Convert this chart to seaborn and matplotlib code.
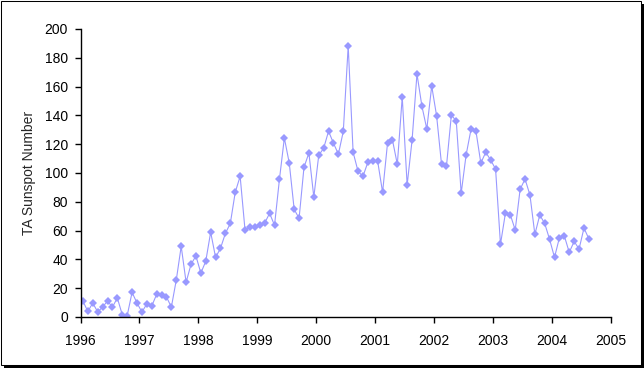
import numpy as np
import pandas as pd
import matplotlib
matplotlib.use('Agg')
import matplotlib.pyplot as plt
import seaborn as sns
from matplotlib.patches import Rectangle

# monthly TA sunspot numbers (Jan 1996 - Aug 2004)
ta_1996 = [10.9, 3.9, 9.7, 3.5, 6.9, 11.1, 6.9, 13.2, 1.6, 0.9, 17.1, 9.7]
ta_1997 = [3.5, 9.0, 7.6, 15.7, 15.0, 13.9, 6.9, 25.7, 49.1, 24.1, 36.6, 42.4]
ta_1998 = [30.5, 38.7, 58.9, 41.4, 47.7, 58.1, 65.0, 86.6, 97.7, 60.2, 62.5, 62.5]
ta_1999 = [63.7, 65.3, 72.0, 63.7, 95.6, 124.3, 106.9, 74.8, 68.5, 104.0, 113.9, 83.2]
ta_2000 = [112.3, 117.2, 129.0, 120.7, 113.1, 128.9, 188.2, 114.4, 101.2, 97.7, 107.4, 108.1]
ta_2001 = [108.1, 86.6, 120.6, 123.1, 106.0, 152.8, 91.7, 122.7, 168.8, 146.5, 130.6, 160.4]
ta_2002 = [139.6, 106.0, 104.6, 140.2, 136.1, 85.9, 112.5, 130.3, 129.2, 106.9, 114.4, 109.0]
ta_2003 = [102.8, 50.5, 72.0, 71.1, 60.4, 88.7, 95.8, 84.7, 57.4, 70.8, 65.0, 53.9]
ta_2004 = [41.4, 55.1, 56.3, 44.9, 52.5, 47.2, 61.8, 54.2]

years = [1996, 1997, 1998, 1999, 2000, 2001, 2002, 2003, 2004]
yearly = [ta_1996, ta_1997, ta_1998, ta_1999, ta_2000, ta_2001, ta_2002, ta_2003, ta_2004]

y_ticks = list(range(0, 201, 20))
x_ticks = list(range(1996, 2006))

rows = []
for yr, vals in zip(years, yearly):
    for m, v in enumerate(vals, start=1):
        rows.append({'year': yr, 'month': m, 'sunspots': v})
df = pd.DataFrame(rows)
# plot each month at its middle
df['date'] = df['year'] + (df['month'] - 0.5) / 12

sns.set_style('ticks')
plt.rcParams['font.family'] = ['Liberation Sans', 'DejaVu Sans']

fig = plt.figure(figsize=(6.44, 3.68), dpi=100)
ax = fig.add_axes([80.5 / 644, 51 / 368, (611 - 80.5) / 644, (317 - 29) / 368])

sns.lineplot(data=df, x='date', y='sunspots', ax=ax, color='#9999FF',
             linewidth=0.8, marker='D', markersize=4.2, markeredgewidth=0,
             markerfacecolor='#9999FF')

ax.set_xlim(1996, 2005)
ax.set_ylim(0, 200)
ax.set_xticks(x_ticks)
ax.set_yticks(y_ticks)
ax.set_xlabel('')
ax.set_ylabel('TA Sunspot Number', fontsize=10, labelpad=6)
ax.tick_params(axis='both', direction='out', length=4, width=1, color='black',
               labelsize=10, labelcolor='black')
ax.tick_params(axis='x', pad=8)
ax.tick_params(axis='y', pad=5)
for side in ['top', 'right']:
    ax.spines[side].set_visible(False)
for side in ['left', 'bottom']:
    ax.spines[side].set_color('black')
    ax.spines[side].set_linewidth(1)
ax.grid(False)

# chart area border with a drop shadow, like the spreadsheet chart
W, H = 644, 368
fig.add_artist(Rectangle((4 / W, 0), (W - 4) / W, 3 / H, transform=fig.transFigure,
                         facecolor='black', edgecolor='none'))
fig.add_artist(Rectangle(((W - 3) / W, 0), 3 / W, (H - 4) / H, transform=fig.transFigure,
                         facecolor='black', edgecolor='none'))
fig.add_artist(Rectangle((0.5 / W, 3.5 / H), (W - 4) / W, (H - 4) / H,
                         transform=fig.transFigure, facecolor='none',
                         edgecolor='black', linewidth=0.75))

fig.savefig('out.png', dpi=100)
